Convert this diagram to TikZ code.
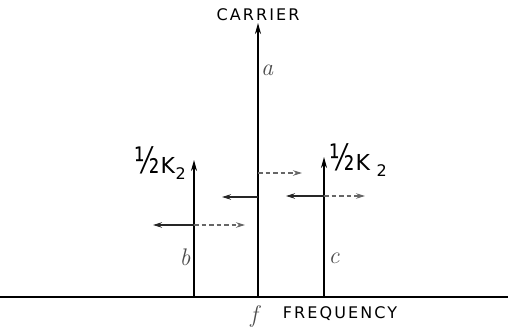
\documentclass[tikz,border=0pt]{standalone}
\usepackage{fontspec}
\newfontfamily\lab[LetterSpace=13]{DejaVu Sans}
\newfontfamily\labn{DejaVu Sans}
\usetikzlibrary{arrows.meta}
\tikzset{
  line/.style={line width=1.6pt, black},
  up/.style={line, -{Stealth[length=11pt,width=6pt]}},
  solidarr/.style={line width=1.1pt, black!85, -{Stealth[length=9pt,width=5.5pt]}},
  dasharr/.style={line width=1.1pt, black!60, dash pattern=on 4.5pt off 3pt, -{Stealth[length=9pt,width=5.5pt]}},
  caps/.style={inner sep=0pt, font=\fontsize{16}{16}\lab},
  ital/.style={inner sep=0pt, text=black!70, font=\fontsize{24}{24}\selectfont\itshape},
  half/.style={inner sep=0pt, font=\fontsize{22}{22}\labn}
}
\newcommand{\halfK}[1]{\scalebox{0.9}[1.25]{\fontsize{29}{29}\selectfont ½}\kern0.05em K\kern#1\raisebox{-0.3em}{\fontsize{16}{16}\selectfont 2}}
\begin{document}
\begin{tikzpicture}[x=1pt,y=-1pt]
\useasboundingbox (0,0) rectangle (508,328);
% ground
\coordinate (g0) at (0,297);
\coordinate (g1) at (508,297);
\draw[line width=1.8pt] (g0) -- (g1);
% verticals
\coordinate (cb) at (258,297); \coordinate (ct) at (258,23);
\coordinate (lb) at (194,297); \coordinate (lt) at (194,160);
\coordinate (rb) at (324,297); \coordinate (rt) at (324,157);
\draw[up] (cb) -- (ct);
\draw[up] (lb) -- (lt);
\draw[up] (rb) -- (rt);
% horizontal shift arrows
\coordinate (c1) at (258,197); \coordinate (c1e) at (222,197);
\coordinate (c2) at (258,173); \coordinate (c2e) at (302,173);
\draw[solidarr] (c1) -- (c1e);
\draw[dasharr] (c2) -- (c2e);
\coordinate (l0) at (194,225); \coordinate (l1) at (153,225); \coordinate (l2) at (245,225);
\draw[solidarr] (l0) -- (l1);
\draw[dasharr] (l0) -- (l2);
\coordinate (r0) at (324,196); \coordinate (r1) at (286,196); \coordinate (r2) at (365,196);
\draw[solidarr] (r0) -- (r1);
\draw[dasharr] (r0) -- (r2);
% labels
\node[caps] (carrier) at (258,15) {CARRIER};
\node[caps] (freq) at (340,314) {FREQUENCY};
\node[ital] (a) at (267,70) {a};
\node[ital] (b) at (185,257) {b};
\node[ital] (c) at (334,258) {c};
\node[ital] (f) at (254,316) {f};
\node[half] (hl) at (160,163) {\halfK{0.02em}};
\node[half] (hr) at (358,160) {\halfK{0.3em}};
\end{tikzpicture}
\end{document}
